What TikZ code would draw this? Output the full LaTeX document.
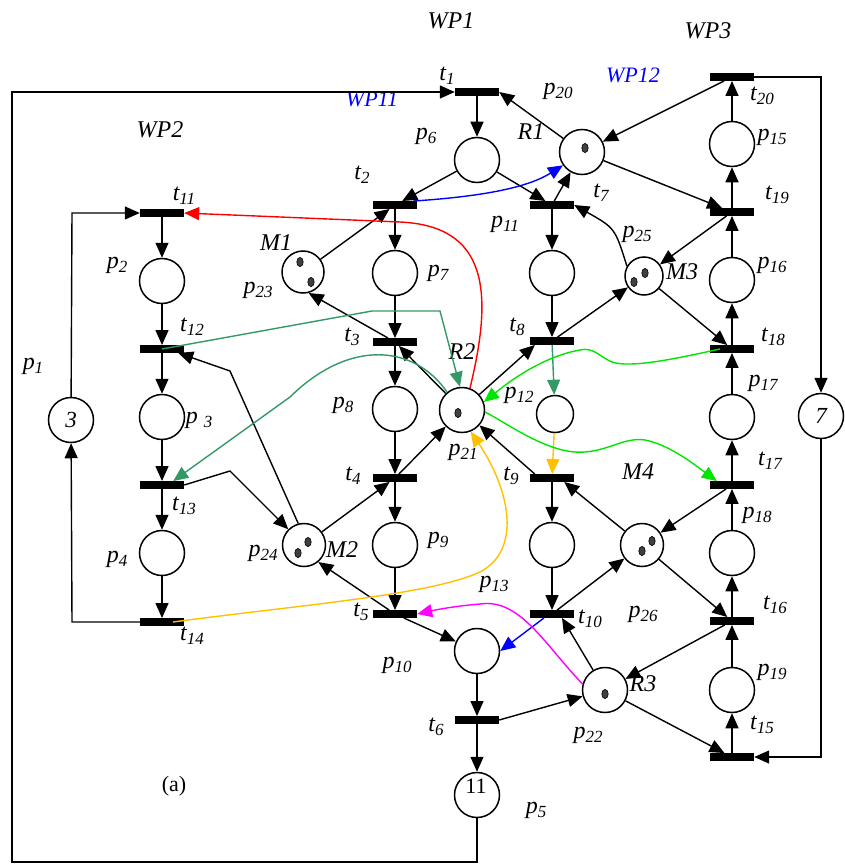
\documentclass[tikz,border=0pt]{standalone}
\usepackage{fontspec}
\setmainfont{Liberation Serif}
\usetikzlibrary{arrows.meta}
\newcommand\sbs[1]{\raisebox{-4pt}{\fontsize{17}{17}\selectfont #1}}
\definecolor{seagr}{RGB}{51,153,102}
\definecolor{brgr}{RGB}{0,230,0}
\definecolor{gold}{RGB}{255,192,0}
\definecolor{magn}{RGB}{255,0,255}
\begin{document}
\begin{tikzpicture}[x=1pt,y=-1pt,
  place/.style={circle,draw,line width=1.5pt,minimum size=45pt,inner sep=0pt},
  trans/.style={rectangle,fill=black,minimum width=44pt,minimum height=7.5pt,inner sep=0pt},
  arc/.style={line width=1.4pt,-{Triangle[length=15pt,width=13pt]}},
  lbl/.style={font=\fontsize{24}{24}\selectfont\itshape,inner sep=0pt}
]
\useasboundingbox (0,0) rectangle (845,864);
% places
\node[place] (p1) at (71,420) {};
\node[place] (p2) at (162,281) {};
\node[place] (p3) at (162,417) {};
\node[place] (p4) at (162,553) {};
\node[place] (p5) at (477,795) {};
\node[place] (p6) at (477,160) {};
\node[place] (p7) at (395,273) {};
\node[place] (p8) at (395,409) {};
\node[place] (p9) at (395,545) {};
\node[place] (p10) at (477,651) {};
\node[place] (p11) at (552,273) {};
\node[place,minimum size=37pt] (p12) at (555,414) {};
\node[place] (p13) at (552,545) {};
\node[place] (p15) at (732,144) {};
\node[place] (p16) at (732,280) {};
\node[place] (p17) at (732,417) {};
\node[place] (p18) at (732,553) {};
\node[place] (p19) at (732,690) {};
\node[place] (R1) at (582,152) {};
\node[place] (R2) at (462,410) {};
\node[place] (R3) at (605,690) {};
\node[place,minimum size=42pt] (M1) at (303,272) {};
\node[place,minimum size=43pt] (M2) at (304,545) {};
\node[place,minimum size=38pt] (M3) at (644,276) {};
\node[place,minimum size=43pt] (M4) at (642,545) {};
\node[place] (pseven) at (821,416) {};
% tokens
\foreach \x/\y in {585/148, 300/262, 311/282, 458/413, 298/553, 308/542, 634/282, 645/273, 642/551, 652/541, 605/694}
  \filldraw[fill=black!75,draw=black,line width=0.6pt] (\x,\y) ellipse (3.2pt and 4.6pt);
% transitions
\node[trans] (t1) at (477,92) {};
\node[trans] (t2) at (395,205) {};
\node[trans] (t3) at (395,342) {};
\node[trans] (t4) at (395,478) {};
\node[trans] (t5) at (395,614) {};
\node[trans] (t6) at (477,720) {};
\node[trans] (t7) at (552,205) {};
\node[trans] (t8) at (552,341) {};
\node[trans] (t9) at (552,478) {};
\node[trans] (t10) at (552,614) {};
\node[trans] (t11) at (162,213) {};
\node[trans] (t12) at (162,349) {};
\node[trans] (t13) at (162,485) {};
\node[trans] (t14) at (162,622) {};
\node[trans] (t15) at (732,757) {};
\node[trans] (t16) at (732,621) {};
\node[trans] (t17) at (732,485) {};
\node[trans] (t18) at (732,349) {};
\node[trans] (t19) at (732,212) {};
\node[trans] (t20) at (732,77) {};
% helper coordinates
\coordinate (lbotr) at (477,862);
\coordinate (lbotl) at (12,862);
\coordinate (ltopl) at (12,92);
\coordinate (a1) at (72,622);
\coordinate (a2) at (72,213);
\coordinate (b1) at (821,77);
\coordinate (b2) at (821,757);
\coordinate (c1) at (230,471);
\coordinate (c2) at (230,371);
\coordinate (g1) at (372,311);
\coordinate (g2) at (440,311);
% labels
\node[lbl] (lWP1) at (451,21) {WP1};
\node[lbl] (lWP2) at (160,130) {WP2};
\node[lbl] (lWP3) at (708,31) {WP3};
\node[lbl,text=blue,font=\fontsize{22}{22}\selectfont\itshape] (lWP11) at (372,99) {WP11};
\node[lbl,text=blue,font=\fontsize{22}{22}\selectfont\itshape] (lWP12) at (633,75) {WP12};
\node[lbl] at (447,76) {t\sbs{1}};
\node[lbl] at (558,91) {p\sbs{20}};
\node[lbl] at (531,132) {R1};
\node[lbl] at (426,136) {p\sbs{6}};
\node[lbl] at (362,175) {t\sbs{2}};
\node[lbl] at (505,224) {p\sbs{11}};
\node[lbl] at (438,273) {p\sbs{7}};
\node[lbl] at (762,96) {t\sbs{20}};
\node[lbl] at (772,137) {p\sbs{15}};
\node[lbl] at (601,193) {t\sbs{7}};
\node[lbl] at (777,195) {t\sbs{19}};
\node[lbl] at (637,234) {p\sbs{25}};
\node[lbl] at (682,272) {M3};
\node[lbl] at (772,265) {p\sbs{16}};
\node[lbl] at (184,196) {t\sbs{11}};
\node[lbl] at (117,265) {p\sbs{2}};
\node[lbl] at (276,243) {M1};
\node[lbl] at (258,290) {p\sbs{23}};
\node[lbl] at (192,327) {t\sbs{12}};
\node[lbl] at (33,366) {p\sbs{1}};
\node[lbl,font=\fontsize{23}{23}\selectfont\itshape] at (71,420) {3};
\node[lbl] at (199,420) {p \sbs{3}};
\node[lbl] at (184,506) {t\sbs{13}};
\node[lbl] at (117,559) {p\sbs{4}};
\node[lbl] at (263,553) {p\sbs{24}};
\node[lbl] at (352,337) {t\sbs{3}};
\node[lbl] at (462,352) {R2};
\node[lbl] at (517,327) {t\sbs{8}};
\node[lbl] at (519,395) {p\sbs{12}};
\node[lbl] at (343,405) {p\sbs{8}};
\node[lbl] at (463,452) {p\sbs{21}};
\node[lbl] at (353,476) {t\sbs{4}};
\node[lbl] at (511,476) {t\sbs{9}};
\node[lbl] at (438,540) {p\sbs{9}};
\node[lbl] at (342,550) {M2};
\node[lbl] at (773,337) {t\sbs{18}};
\node[lbl] at (763,383) {p\sbs{17}};
\node[lbl,font=\fontsize{23}{23}\selectfont\itshape] at (821,416) {7};
\node[lbl] at (770,461) {t\sbs{17}};
\node[lbl] at (638,472) {M4};
\node[lbl] at (757,515) {p\sbs{18}};
\node[lbl] at (192,636) {t\sbs{14}};
\node[lbl,font=\fontsize{22}{22}\selectfont] at (174,786) {(a)};
\node[lbl] at (494,584) {p\sbs{13}};
\node[lbl] at (361,612) {t\sbs{5}};
\node[lbl] at (397,665) {p\sbs{10}};
\node[lbl] at (436,727) {t\sbs{6}};
\node[lbl,font=\fontsize{22}{22}\selectfont] (n11) at (476,786) {11};
\node[lbl] at (536,810) {p\sbs{5}};
\node[lbl] at (590,619) {t\sbs{10}};
\node[lbl] at (643,614) {p\sbs{26}};
\node[lbl] at (775,605) {t\sbs{16}};
\node[lbl] at (643,684) {R3};
\node[lbl] at (772,672) {p\sbs{19}};
\node[lbl] at (762,725) {t\sbs{15}};
\node[lbl] at (588,735) {p\sbs{22}};
% outer loops
\draw[arc] (p5) -- (lbotr) -- (lbotl) -- (ltopl) -- (t1.west);
\draw[arc] (t14.west) -- (a1) -- (p1);
\draw[arc] (p1) -- (a2) -- (t11.west);
\draw[arc] (t20.east) -- (b1) -- (pseven);
\draw[arc] (pseven) -- (b2) -- (t15.east);
% column A
\draw[arc] (t11) -- (p2);
\draw[arc] (p2) -- (t12);
\draw[arc] (t12) -- (p3);
\draw[arc] (p3) -- (t13);
\draw[arc] (t13) -- (p4);
\draw[arc] (p4) -- (t14);
\draw[arc] (t13.east) -- (c1) -- (M2.135);
\draw[arc] (M2.105) -- (c2) -- ([xshift=-6pt]t12.south east);
% column B
\draw[arc] (t1) -- (p6);
\draw[arc] (R1) -- (t1.east);
\draw[arc] (p6) -- (t2);
\draw[arc] (p6) -- (t7);
\draw[arc] (t7) -- (R1);
\draw[arc] (M1) -- (t2);
\draw[arc] (t2) -- (p7);
\draw[arc] (p7) -- (t3);
\draw[arc] (t3) -- (M1.-75);
\draw[arc] (R2) -- (t3);
\draw[arc] (t3) -- (p8);
\draw[arc] (p8) -- (t4);
\draw[arc] (t4) -- (R2);
\draw[arc] (M2) -- (t4);
\draw[arc] (t4) -- (p9);
\draw[arc] (p9) -- (t5);
\draw[arc] (t5) -- (M2.-50);
\draw[arc] (t5) -- (p10);
\draw[arc] (p10) -- (t6);
\draw[arc] (t6) -- (p5);
\draw[arc] (t6.east) -- (R3);
% column C
\draw[arc] (t7) -- (p11);
\draw[arc] (p11) -- (t8);
\draw[arc] (t8) -- (M3);
\draw[arc] (R2) -- ([xshift=5pt]t8.south west);
\draw[arc] (M3.150) .. controls (615,228) .. (t7.east);
\draw[arc] ([xshift=5pt]t9.north west) -- (R2);
\draw[arc] (M4) -- ([xshift=-10pt]t9.south east);
\draw[arc] (t9) -- (p13);
\draw[arc] (p13) -- (t10);
\draw[arc] (t10) -- (M4);
\draw[arc] (R3) -- ([xshift=10pt]t10.south);
% column D
\draw[arc] (R1) -- (t19);
\draw[arc] (t20) -- (R1);
\draw[arc] (t15) -- (p19);
\draw[arc] (p19) -- (t16);
\draw[arc] (t16) -- (p18);
\draw[arc] (p18) -- (t17);
\draw[arc] (t17) -- (p17);
\draw[arc] (p17) -- (t18);
\draw[arc] (t18) -- (p16);
\draw[arc] (p16) -- (t19);
\draw[arc] (t19) -- (p15);
\draw[arc] (p15) -- (t20);
\draw[arc] (t19) -- (M3);
\draw[arc] (M3) -- (t18);
\draw[arc] (t17) -- (M4);
\draw[arc] (M4) -- (t16);
\draw[arc] (t16) -- (R3);
\draw[arc] (R3) -- (t15);
% coloured arcs
\draw[arc,red] (R2.70) .. controls (494,290) and (487,226) .. (400,222) -- (t11.east);
\draw[arc,blue] ([xshift=-4pt]t2.north east) .. controls (490,196) and (530,186) .. (R1.-145);
\draw[arc,blue] ([xshift=-8pt]t10.south) -- (p10.east);
\draw[arc,seagr] (t12.center) -- (g1) -- (g2) -- (R2.95);
\draw[arc,seagr] (R2.130) .. controls (415,345) and (350,338) .. (290,397) -- ([xshift=-11pt]t13.north east);
\draw[arc,seagr] (t8) -- (p12);
\draw[arc,gold] (p12) -- (t9);
\draw[arc,gold] ([xshift=11pt]t14.center) .. controls (300,605) and (430,595) .. (480,572) .. controls (522,550) and (510,490) .. (R2.-68);
\draw[arc,brgr] ([xshift=-12pt]t18.center) .. controls (670,360) and (630,368) .. (612,362) .. controls (598,356) and (594,347) .. (580,350) .. controls (540,357) and (505,385) .. (R2.20);
\draw[arc,brgr] (R2.-5) .. controls (510,425) and (550,455) .. (585,452) .. controls (610,450) and (625,437) .. (645,440) .. controls (670,445) and (695,465) .. ([xshift=7pt]t17.north west);
\draw[arc,magn] (R3.165) .. controls (545,645) and (520,598) .. (480,604) .. controls (455,606) and (435,610) .. (t5.east);
\end{tikzpicture}
\end{document}
